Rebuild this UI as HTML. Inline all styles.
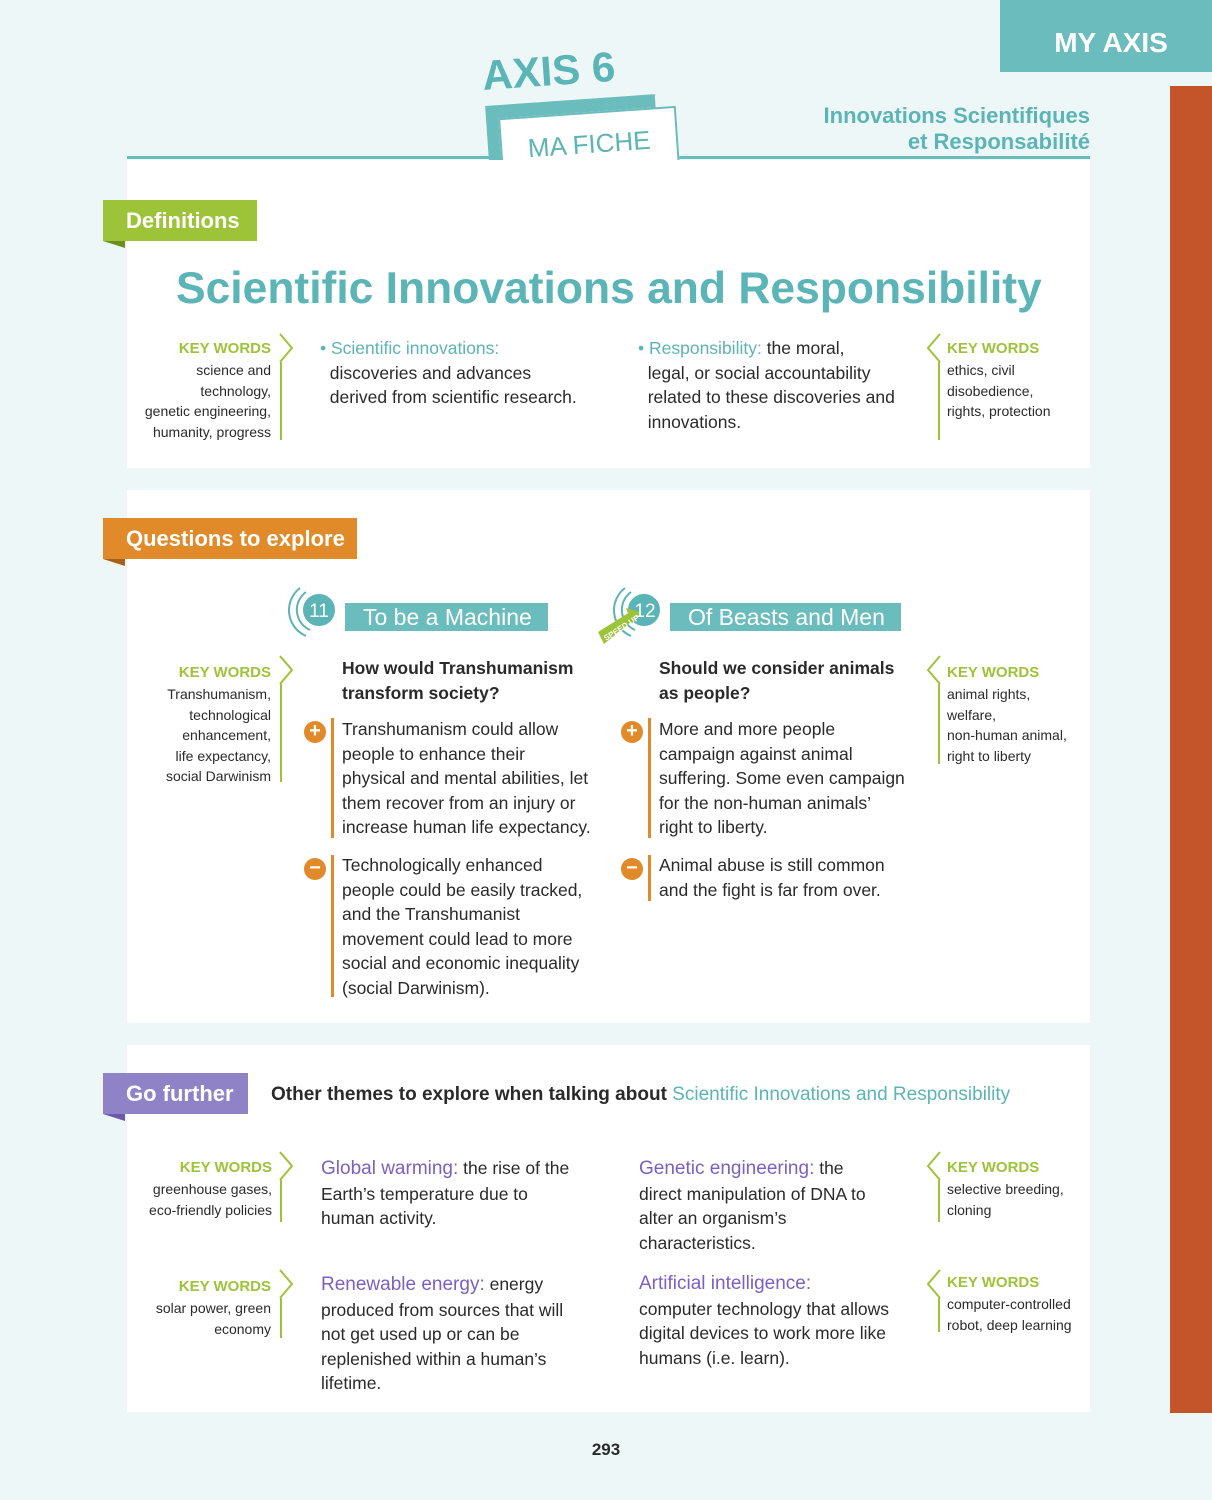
<!DOCTYPE html>
<html><head><meta charset="utf-8">
<style>
*{margin:0;padding:0;box-sizing:border-box}
body{width:1212px;height:1500px;background:#eef7f7;position:relative;overflow:hidden;font-family:"Liberation Sans","DejaVu Sans",sans-serif;color:#2a2a2a}
.a{position:absolute}
.panel{position:absolute;left:127px;width:963px;background:#fff}
.tag{position:absolute;left:103px;height:41px;color:#fff;font-weight:bold;font-size:22px;line-height:41px;padding-left:23px}
.tag:after{content:"";position:absolute;left:0;bottom:-7px;border-top:7px solid;border-left:22px solid transparent;border-top-color:inherit}
.kw{position:absolute;font-size:14px;line-height:20.5px;color:#2a2a2a}
.kw b{display:block;color:#9dc338;font-size:15px;font-weight:bold;line-height:22px}
.kl{text-align:right;width:200px}
.body{position:absolute;font-size:17.5px;line-height:24.5px;color:#2a2a2a}
.tl{color:#5bb4b6}
.pu{color:#7b5fc4}
.bar{position:absolute;width:3px;background:#e08a2a}
.ic{position:absolute;width:22px;height:22px;border-radius:50%;background:#e08a2a;color:#fff;font-weight:bold;font-size:20px;line-height:21px;text-align:center}
</style></head><body>
<div class="a" style="left:1000px;top:0;width:212px;height:72px;background:#6bbcbd;color:#fff;font-weight:bold;font-size:28px;line-height:86px;text-align:center;padding-left:10px">MY AXIS</div>
<div class="a" style="left:1170px;top:86px;width:42px;height:1327px;background:#c4552b"></div>
<div class="a" style="left:127px;top:156px;width:963px;height:3px;background:#6bbcbd"></div>
<div class="a" style="left:484px;top:52px;font-size:42px;font-weight:bold;color:#5bb4b6;transform:rotate(-4deg);transform-origin:left bottom">AXIS 6</div>
<div class="a" style="left:487px;top:100px;width:170px;height:60px;background:#6bbcbd;transform:rotate(-4deg)"></div>
<div class="a" style="left:500px;top:112px;width:178px;height:60px;background:#fff;border:2px solid #6bbcbd;transform:rotate(-4deg);color:#5bb4b6;font-size:26px;line-height:60px;text-align:center">MA FICHE</div>
<div class="a" style="right:122px;top:103px;text-align:right;color:#5bb4b6;font-size:22px;line-height:26px;font-weight:bold">Innovations Scientifiques<br>et Responsabilité</div>

<div class="panel" style="top:160px;height:308px"></div>
<div class="panel" style="top:490px;height:533px"></div>
<div class="panel" style="top:1045px;height:367px"></div>

<div class="tag" style="top:200px;width:154px;background:#9dc338;border-top-color:#6e8f1c">Definitions</div>
<div class="a" style="left:176px;top:264px;font-size:44.4px;font-weight:bold;color:#5bb4b6">Scientific Innovations and Responsibility</div>

<svg class="a" style="left:0;top:0" width="1212" height="1500">
<g fill="none" stroke="#9dc338" stroke-width="2">
<path d="M280 334 L292 348 L280 362 M281 362 V440"/>
<path d="M940 334 L928 348 L940 362 M939 362 V440"/>
<path d="M280 656 L292 670 L280 684 M281 684 V782"/>
<path d="M940 656 L928 670 L940 684 M939 684 V764"/>
<path d="M280 1152 L292 1166 L280 1180 M281 1180 V1222"/>
<path d="M940 1152 L928 1166 L940 1180 M939 1180 V1222"/>
<path d="M280 1270 L292 1284 L280 1298 M281 1298 V1338"/>
<path d="M940 1270 L928 1284 L940 1298 M939 1298 V1332"/>
</g>
<g fill="none" stroke="#5bb4b6" stroke-width="2">
<circle cx="319" cy="610" r="15" fill="#5bb4b6"/>
<path d="M306 592 A22 22 0 0 0 310 630"/><path d="M300 588 A28 28 0 0 0 306 636"/>
<circle cx="644" cy="610" r="15" fill="#5bb4b6"/>
<path d="M631 592 A22 22 0 0 0 635 630"/><path d="M625 588 A28 28 0 0 0 631 636"/>
</g>
<polygon points="598,632 630,612 636,618 604,644" fill="#9dc338"/>
<polygon points="626,608 640,612 632,624" fill="#9dc338"/>
<text x="319" y="617" font-size="19" fill="#fff" text-anchor="middle" font-family="Liberation Sans">11</text>
<text x="645" y="617" font-size="19" fill="#fff" text-anchor="middle" font-family="Liberation Sans">12</text>
<text x="606" y="641" font-size="8" fill="#fff" font-weight="bold" transform="rotate(-33 606 641)" font-family="Liberation Sans">SPEED UP</text>
</svg>

<div class="kw kl" style="left:71px;top:338px"><b>KEY WORDS</b>science and<br>technology,<br>genetic engineering,<br>humanity, progress</div>
<div class="body" style="left:320px;top:336px"><span class="tl">• Scientific innovations:</span><br>&nbsp;&nbsp;discoveries and advances<br>&nbsp;&nbsp;derived from scientific research.</div>
<div class="body" style="left:638px;top:336px"><span class="tl">• Responsibility:</span> the moral,<br>&nbsp;&nbsp;legal, or social accountability<br>&nbsp;&nbsp;related to these discoveries and<br>&nbsp;&nbsp;innovations.</div>
<div class="kw" style="left:947px;top:338px"><b>KEY WORDS</b>ethics, civil<br>disobedience,<br>rights, protection</div>

<div class="tag" style="top:518px;width:254px;background:#e08a2a;border-top-color:#a8601a">Questions to explore</div>
<div class="a" style="left:345px;top:603px;width:203px;height:28px;background:#6bbcbd;color:#fff;font-size:23px;line-height:29px;padding-left:18px">To be a Machine</div>
<div class="a" style="left:670px;top:603px;width:231px;height:28px;background:#6bbcbd;color:#fff;font-size:23px;line-height:29px;padding-left:18px">Of Beasts and Men</div>

<div class="kw kl" style="left:71px;top:662px"><b>KEY WORDS</b>Transhumanism,<br>technological<br>enhancement,<br>life expectancy,<br>social Darwinism</div>
<div class="body" style="left:342px;top:656px;font-weight:bold">How would Transhumanism<br>transform society?</div>
<div class="ic" style="left:304px;top:721px">+</div>
<div class="bar" style="left:331px;top:718px;height:120px"></div>
<div class="body" style="left:342px;top:717px">Transhumanism could allow<br>people to enhance their<br>physical and mental abilities, let<br>them recover from an injury or<br>increase human life expectancy.</div>
<div class="ic" style="left:304px;top:858px">−</div>
<div class="bar" style="left:331px;top:855px;height:142px"></div>
<div class="body" style="left:342px;top:853px">Technologically enhanced<br>people could be easily tracked,<br>and the Transhumanist<br>movement could lead to more<br>social and economic inequality<br>(social Darwinism).</div>

<div class="body" style="left:659px;top:656px;font-weight:bold">Should we consider animals<br>as people?</div>
<div class="ic" style="left:621px;top:721px">+</div>
<div class="bar" style="left:648px;top:718px;height:120px"></div>
<div class="body" style="left:659px;top:717px">More and more people<br>campaign against animal<br>suffering. Some even campaign<br>for the non-human animals’<br>right to liberty.</div>
<div class="ic" style="left:621px;top:858px">−</div>
<div class="bar" style="left:648px;top:855px;height:46px"></div>
<div class="body" style="left:659px;top:853px">Animal abuse is still common<br>and the fight is far from over.</div>
<div class="kw" style="left:947px;top:662px"><b>KEY WORDS</b>animal rights,<br>welfare,<br>non-human animal,<br>right to liberty</div>

<div class="tag" style="top:1073px;width:145px;background:#8f82c6;border-top-color:#6a5aa8">Go further</div>
<div class="body" style="left:271px;top:1083px;font-size:19px;font-weight:bold">Other themes to explore when talking about <span class="tl" style="font-weight:normal">Scientific Innovations and Responsibility</span></div>

<div class="kw kl" style="left:72px;top:1157px"><b>KEY WORDS</b>greenhouse gases,<br>eco-friendly policies</div>
<div class="body" style="left:321px;top:1156px"><span class="pu" style="font-size:19px">Global warming:</span> the rise of the<br>Earth’s temperature due to<br>human activity.</div>
<div class="body" style="left:639px;top:1156px"><span class="pu" style="font-size:19px">Genetic engineering:</span> the<br>direct manipulation of DNA to<br>alter an organism’s<br>characteristics.</div>
<div class="kw" style="left:947px;top:1157px"><b>KEY WORDS</b>selective breeding,<br>cloning</div>

<div class="kw kl" style="left:71px;top:1276px"><b>KEY WORDS</b>solar power, green<br>economy</div>
<div class="body" style="left:321px;top:1272px"><span class="pu" style="font-size:19px">Renewable energy:</span> energy<br>produced from sources that will<br>not get used up or can be<br>replenished within a human’s<br>lifetime.</div>
<div class="body" style="left:639px;top:1271px"><span class="pu" style="font-size:19px">Artificial intelligence:</span><br>computer technology that allows<br>digital devices to work more like<br>humans (i.e. learn).</div>
<div class="kw" style="left:947px;top:1272px"><b>KEY WORDS</b>computer-controlled<br>robot, deep learning</div>

<div class="a" style="left:0;width:1212px;top:1440px;text-align:center;font-size:17px;font-weight:bold">293</div>
</body></html>
